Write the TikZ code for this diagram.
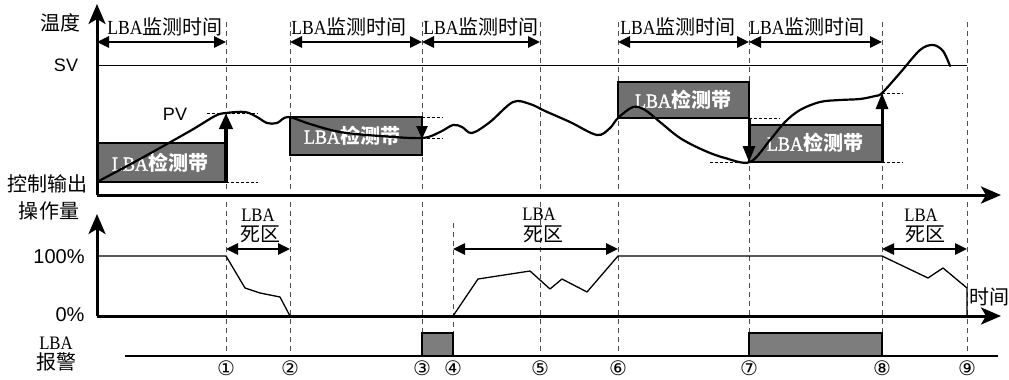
\documentclass[tikz,border=0pt]{standalone}
\usepackage{fontspec}
\setmainfont{Liberation Sans}
\newfontfamily\cjk{Noto Sans CJK SC}
\newfontfamily\lbaf[FakeStretch=0.88]{Liberation Serif}
\newfontfamily\lbabf[FakeStretch=0.9,FakeBold=1.6]{Liberation Serif}
\newfontfamily\circf{DejaVu Sans}
\usetikzlibrary{arrows.meta}
\definecolor{bandgray}{RGB}{112,112,112}
\definecolor{alarmgray}{RGB}{125,125,125}
\definecolor{dashgray}{RGB}{80,80,80}
\newcommand{\LBAtxt}{{\lbaf LBA}}
\newcommand{\LBAbold}{{\lbabf LBA}}
\begin{document}
\begin{tikzpicture}[x=1pt,y=-1pt,
  every node/.style={inner sep=0pt, outer sep=0pt},
  axis/.style={line width=3pt, -{Stealth[length=20pt,width=17pt,inset=5pt]}},
  dim/.style={line width=2.5pt, {Triangle[length=12pt,width=11pt]}-{Triangle[length=12pt,width=11pt]}},
  vguide/.style={dashgray, line width=0.9pt, dash pattern=on 5pt off 4pt},
  hguide/.style={black, line width=0.9pt, dash pattern=on 3pt off 2pt},
  band/.style={draw=black, line width=2pt, fill=bandgray},
  alarm/.style={draw=black, line width=2pt, fill=alarmgray},
  jump/.style={line width=4pt, -{Triangle[length=16pt,width=13pt]}},
  pv/.style={line width=2.2pt, line join=round, line cap=round},
  mv/.style={line width=1.3pt, line join=round},
  lab/.style={font=\fontsize{20}{24}\selectfont},
  bandtxt/.style={text=white, font=\fontsize{20}{24}\selectfont},
  circ/.style={font=\fontsize{20}{21}\selectfont\circf}
]
\useasboundingbox (0,0) rectangle (1009,380);

% time marks
\foreach \n/\x in {1/226,2/290,3/422,4/453,5/540,6/618,7/749,8/882,9/967}{
  \coordinate (t\n) at (\x,0);
}

% vertical dashed guides, top panel
\foreach \x in {226,290,422,540,618,749,882,967}{
  \draw[vguide] (\x,22) -- (\x,190);
}
% vertical dashed guides, bottom panels
\foreach \x in {226,290,422,540,618,749,882,967}{
  \draw[vguide] (\x,202) -- (\x,352);
}
\draw[vguide] (453,223) -- (453,352);

% SV line
\coordinate (sv0) at (97,65);
\coordinate (sv1) at (967,65);
\draw[line width=1pt] (sv0) -- (sv1);

% detection bands
\draw[band] (97,143) rectangle (226,182);
\draw[band] (290,117) rectangle (422,155);
\draw[band] (618,82) rectangle (749,118);
\draw[band] (749,125) rectangle (882,162);
\node[bandtxt] (b1) at (160,163) {\LBAbold{\cjk\bfseries 检测带}};
\node[bandtxt] (b2) at (352,136) {\LBAbold{\cjk\bfseries 检测带}};
\node[bandtxt] (b3) at (683,100) {\LBAbold{\cjk\bfseries 检测带}};
\node[bandtxt] (b4) at (815,143) {\LBAbold{\cjk\bfseries 检测带}};

% horizontal dashed level marks
\draw[hguide] (207,113) -- (258,113);
\draw[hguide] (226,182) -- (258,182);
\draw[hguide] (422,117) -- (443,117);
\draw[hguide] (422,138) -- (443,138);
\draw[hguide] (749,118) -- (780,118);
\draw[hguide] (710,162) -- (749,162);
\draw[hguide] (882,93) -- (903,93);
\draw[hguide] (882,162) -- (903,162);

% PV curve
\draw[pv] plot[smooth, tension=0.55] coordinates {
 (97,182) (140,159) (190,131) (215,116) (226,113) (245,112) (257,117)
 (267,123) (277,123) (288,117) (310,124) (340,132) (380,136) (422,138)
 (440,132) (453,125) (462,127) (472,133) (490,122) (513,102) (530,104)
 (545,111) (570,122) (597,135) (610,128) (618,118) (633,107) (645,110)
 (660,122) (680,138) (703,150) (725,158) (750,162) (770,140) (785,122)
 (800,110) (820,102) (840,100) (860,99) (875,96) (882,93) (900,73)
 (920,50) (933,45) (943,51) (950,66)};

% jump arrows
\coordinate (j1a) at (226,182); \coordinate (j1b) at (226,113);
\coordinate (j2a) at (422,117); \coordinate (j2b) at (422,139);
\coordinate (j3a) at (749,118); \coordinate (j3b) at (749,162);
\coordinate (j4a) at (882,162); \coordinate (j4b) at (882,93);
\draw[jump] (j1a) -- (j1b);
\draw[line width=2.5pt, -{Triangle[length=13pt,width=11pt]}] (j2a) -- (j2b);
\draw[line width=3pt, -{Triangle[length=16pt,width=12pt]}] (j3a) -- (j3b);
\draw[line width=3pt, -{Triangle[length=16pt,width=12pt]}] (j4a) -- (j4b);

% monitoring time arrows
\coordinate (m0) at (97,42);
\draw[dim] (m0) -- (226,42);
\draw[dim] (290,42) -- (422,42);
\draw[dim] (422,42) -- (540,42);
\draw[dim] (618,42) -- (749,42);
\draw[dim] (749,42) -- (882,42);
\node[lab] (mt1) at (165,27) {\LBAtxt{\cjk 监测时间}};
\node[lab] (mt2) at (349,27) {\LBAtxt{\cjk 监测时间}};
\node[lab] (mt3) at (481,27) {\LBAtxt{\cjk 监测时间}};
\node[lab] (mt4) at (678,27) {\LBAtxt{\cjk 监测时间}};
\node[lab] (mt5) at (807,27) {\LBAtxt{\cjk 监测时间}};

% top axes
\coordinate (o1) at (97,195);
\draw[axis] (o1) -- (97,4);
\draw[axis] (o1) -- (1001,195);

% left labels top
\node[lab] (wendu) at (60,23) {\cjk 温度};
\node[font=\fontsize{18}{20}\selectfont] (sv) at (66,65) {SV};
\node[font=\fontsize{18}{20}\selectfont] (pvl) at (175,114) {PV};
\node[lab] (kz) at (48,184) {\cjk 控制输出};

% manipulated variable panel
\node[lab] (czl) at (49,211) {\cjk 操作量};
\node[lab] (p100) at (59,257) {100\%};
\node[lab] (p0) at (70,315) {0\%};
\draw[mv] plot coordinates {(97,256) (226,256) (245,288) (260,293) (280,297) (290,316)};
\draw[mv] plot coordinates {(453,316) (478,279) (530,271) (550,289) (562,279) (587,292) (618,256) (882,256) (928,278) (943,268) (967,288) (967,316)};
\coordinate (o2) at (97,316);
\draw[axis] (o2) -- (97,214);
\draw[axis] (o2) -- (1001,316);
\node[lab] (shijian) at (989,297) {\cjk 时间};

% dead zones
\draw[dim] (226,249) -- (290,249);
\draw[dim] (453,249) -- (618,249);
\draw[dim] (882,249) -- (967,249);
\node[font=\fontsize{19}{20}\selectfont] (dz1a) at (258,215) {\LBAtxt};
\node[lab] (dz1b) at (260,234) {\cjk 死区};
\node[font=\fontsize{19}{20}\selectfont] (dz2a) at (539,214) {\LBAtxt};
\node[lab] (dz2b) at (543,234) {\cjk 死区};
\node[font=\fontsize{19}{20}\selectfont] (dz3a) at (921,215) {\LBAtxt};
\node[lab] (dz3b) at (925,234) {\cjk 死区};

% alarm panel
\node[font=\fontsize{19}{20}\selectfont] (al1) at (56,343) {\LBAtxt};
\node[lab] (al2) at (56,362) {\cjk 报警};
\coordinate (ab0) at (125,356);
\coordinate (ab1) at (998,356);
\draw[alarm] (422,333) rectangle (453,356);
\draw[alarm] (749,333) rectangle (882,356);
\draw[line width=2.5pt] (ab0) -- (ab1);

% circled numbers
\foreach \n/\x/\s in {1/226/①,2/290/②,3/422/③,4/453/④,5/540/⑤,6/618/⑥,7/749/⑦,8/882/⑧,9/967/⑨}{
  \node[circ] (c\n) at (\x,368) {\s};
}
\end{tikzpicture}
\end{document}
